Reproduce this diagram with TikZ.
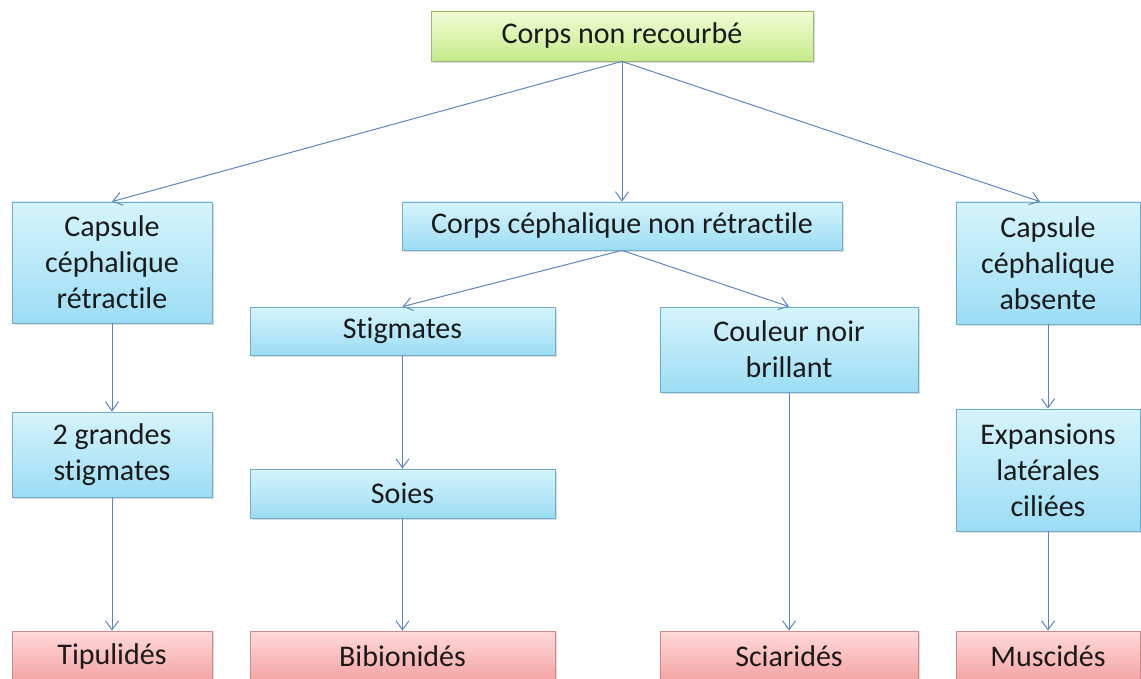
\documentclass[tikz,border=0pt]{standalone}
\usepackage{fontspec}
\setmainfont[Ligatures=NoCommon]{Carlito}
\usetikzlibrary{arrows.meta,shadows}
\definecolor{txt}{HTML}{1A1A1A}
\definecolor{link}{HTML}{5B86BE}
\definecolor{greenTop}{HTML}{F2FCD6}
\definecolor{greenBot}{HTML}{C6EA8A}
\definecolor{greenLine}{HTML}{9DB57A}
\definecolor{blueTop}{HTML}{D6F4FC}
\definecolor{blueBot}{HTML}{9CDDF4}
\definecolor{blueLine}{HTML}{6FAFCB}
\definecolor{redTop}{HTML}{FFDADA}
\definecolor{redBot}{HTML}{F5A3A3}
\definecolor{redLine}{HTML}{C98A8A}
\tikzset{
  x=1pt, y=-1pt,
  every node/.style={font=\fontsize{30}{36}\selectfont, text=txt, align=center, inner sep=0pt},
  boxbase/.style={rectangle, line width=0.8pt,
    drop shadow={opacity=0.28, shadow xshift=1.5pt, shadow yshift=-2pt}},
  rootbox/.style={boxbase, draw=greenLine, top color=greenTop, bottom color=greenBot},
  stepbox/.style={boxbase, draw=blueLine, top color=blueTop, bottom color=blueBot},
  leafbox/.style={boxbase, draw=redLine, top color=redTop, bottom color=redBot},
  link/.style={draw=link, line width=1pt, -{Straight Barb[length=9pt,width=13pt,line width=1pt]}},
}
\newcommand{\bx}[6]{% style, name, centre x, centre y, width, height
  \node[#1, minimum width=#5pt, minimum height=#6pt] (#2) at (#3,#4)}
\begin{document}
\begin{tikzpicture}
\useasboundingbox (0,0) rectangle (1141,679);
\begin{scope}
\clip (0,0) rectangle (1141,679);
% root
\bx{rootbox}{root}{622}{36}{382}{50} {Corps non recourbé};
% second level
\bx{stepbox}{cr}{112}{262.5}{200}{121} {Capsule\\céphalique\\rétractile};
\bx{stepbox}{cc}{622}{226}{440}{48} {Corps céphalique non rétractile};
\bx{stepbox}{ca}{1048}{263}{184}{122} {Capsule\\céphalique\\absente};
% third level
\bx{stepbox}{st}{402.5}{331}{305}{48} {Stigmates};
\bx{stepbox}{cn}{789}{349.5}{258}{85} {Couleur noir\\brillant};
\bx{stepbox}{gs}{112}{454.5}{200}{85} {2 grandes\\stigmates};
\bx{stepbox}{so}{402.5}{493.5}{305}{49} {Soies};
\bx{stepbox}{ex}{1048}{470}{184}{122} {Expansions\\latérales\\ciliées};
% families
\bx{leafbox}{tip}{112}{656}{200}{50} {Tipulidés};
\bx{leafbox}{bib}{402.5}{656}{305}{50} {Bibionidés};
\bx{leafbox}{sci}{789}{656}{258}{50} {Sciaridés};
\bx{leafbox}{mus}{1048}{656}{184}{50} {Muscidés};
\end{scope}
% connectors
\draw[link] (root.south) -- (cr.north);
\draw[link] (root.south) -- (cc.north);
\draw[link] (root.south) -- ([xshift=-8pt]ca.north);
\draw[link] (cc.south) -- (st.north);
\draw[link] (cc.south) -- (cn.north);
\draw[link] (cr.south) -- (gs.north);
\draw[link] (gs.south) -- (tip.north);
\draw[link] (st.south) -- (so.north);
\draw[link] (so.south) -- (bib.north);
\draw[link] (cn.south) -- (sci.north);
\draw[link] (ca.south) -- (ex.north);
\draw[link] (ex.south) -- (mus.north);
\end{tikzpicture}
\end{document}
